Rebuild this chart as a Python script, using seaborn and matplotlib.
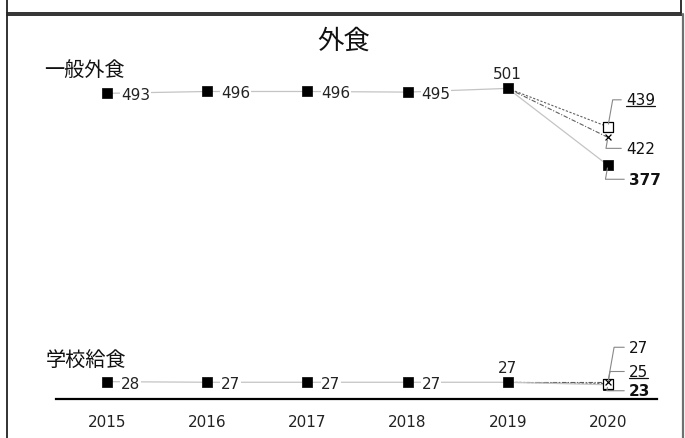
import matplotlib
matplotlib.use("Agg")
import matplotlib.pyplot as plt
import matplotlib.text as mtext
import seaborn as sns
import pandas as pd
from matplotlib.lines import Line2D

# ---------------- data ----------------
years = [2015, 2016, 2017, 2018, 2019, 2020]
general_actual = [493, 496, 496, 495, 501, 377]
school_actual = [28, 27, 27, 27, 27, 23]
forecast_years = [2019, 2020]
general_fc_a = [501, 439]   # open square, underlined label
general_fc_b = [501, 422]   # x marker
school_fc_a = [27, 25]      # open square, underlined label
school_fc_b = [27, 27]      # x marker
title = "外食"
series_names = ["一般外食", "学校給食"]

sns.set_theme(style="white")
plt.rcParams["font.family"] = ["DejaVu Sans", "Noto Sans CJK JP"]
CJK = ["Noto Sans CJK JP", "DejaVu Sans"]

W, H = 685, 439
fig = plt.figure(figsize=(W / 100, H / 100), dpi=100)

def fx(px):
    return px / W

def fy(py):
    return 1 - py / H

# axes: x from 56 to 657 px, y: 0 at 400 px, top at 60 px
ax = fig.add_axes([fx(56), fy(400), fx(657) - fx(56), fy(60) - fy(400)])
ax.set_xlim(2014.49, 2020.49)
ax.set_ylim(0, 340 / 0.62)

line_grey = "#c4c4c4"
fc_grey = "#606060"

# forecast lines (2019 -> 2020)
for fa, fb in [(general_fc_a, general_fc_b), (school_fc_a, school_fc_b)]:
    sns.lineplot(x=forecast_years, y=fa, ax=ax, color=fc_grey, lw=0.8,
                 linestyle=(0, (2, 1.5)), zorder=2)
    sns.lineplot(x=forecast_years, y=fb, ax=ax, color=fc_grey, lw=0.8,
                 linestyle=(0, (4, 1.5, 1, 1.5)), zorder=2)

# actual lines
for vals in [general_actual, school_actual]:
    sns.lineplot(x=years, y=vals, ax=ax, color=line_grey, lw=0.9, zorder=2)
    sns.scatterplot(x=years, y=vals, ax=ax, marker="s", s=48, color="black",
                    edgecolor="black", linewidth=0.5, zorder=4)

# forecast markers at 2020
for fa, fb in [(general_fc_a, general_fc_b), (school_fc_a, school_fc_b)]:
    sns.scatterplot(x=[forecast_years[-1]], y=[fa[-1]], ax=ax, marker="s", s=55,
                    facecolor="white", edgecolor="black", linewidth=0.9, zorder=5)
    sns.scatterplot(x=[forecast_years[-1]], y=[fb[-1]], ax=ax, marker="x", s=18,
                    color="black", linewidth=0.9, zorder=5)

FS = 11
bb = dict(boxstyle="square,pad=0.05", fc="white", ec="none")

# labels 2015-2018 to the right, 2019 above
for vals in [general_actual, school_actual]:
    for x, v in zip(years[:4], vals[:4]):
        ax.annotate(str(v), (x, v), xytext=(10, -1), textcoords="offset points",
                    ha="left", va="center", fontsize=FS, color="#222222",
                    bbox=bb, zorder=3)
    ax.annotate(str(vals[4]), (years[4], vals[4]), xytext=(0, 5),
                textcoords="offset points", ha="center", va="bottom",
                fontsize=FS, color="#222222")

underlined = []
def lab2020(v, dx, dy, weight="normal", underline=False):
    t = ax.annotate(str(v), (2020, v), xytext=(dx, dy), textcoords="offset points",
                    ha="left", va="center", fontsize=FS, color="#111111",
                    fontweight=weight, zorder=6,
                    arrowprops=dict(arrowstyle="-", color="#888888", lw=0.8,
                                    shrinkA=1, shrinkB=2,
                                    connectionstyle="angle,angleA=0,angleB=80,rad=0"))
    if underline:
        underlined.append(t)
    return t

px2pt = 0.72
lab2020(general_fc_a[-1], 18 * px2pt, 27 * px2pt, underline=True)
lab2020(general_fc_b[-1], 18 * px2pt, -11 * px2pt)
lab2020(general_actual[-1], 21 * px2pt, -14 * px2pt, weight="bold")
lab2020(school_fc_b[-1], 21 * px2pt, 35 * px2pt)
lab2020(school_fc_a[-1], 21 * px2pt, 12 * px2pt, underline=True)
lab2020(school_actual[-1], 21 * px2pt, -6 * px2pt, weight="bold")

# series names
fig.text(fx(44), fy(70), series_names[0], ha="left", va="center",
         fontsize=14.5, family=CJK, color="#111111")
fig.text(fx(46), fy(361), series_names[1], ha="left", va="center",
         fontsize=14.5, family=CJK, color="#111111")
# title
fig.text(fx(344), fy(41), title, ha="center", va="center", fontsize=19,
         family=CJK, color="#111111")

# axes styling
ax.set_xticks(years)
ax.set_xticklabels([str(y) for y in years], fontsize=FS, color="#222222")
ax.set_yticks([])
ax.tick_params(axis="x", length=0, pad=11)
for s in ["top", "left", "right"]:
    ax.spines[s].set_visible(False)
ax.spines["bottom"].set_color("black")
ax.spines["bottom"].set_linewidth(1.6)
ax.set_xlabel("")
ax.set_ylabel("")
ax.patch.set_alpha(0)

# frames
def fline(x0, y0, x1, y1, color="#222222", lw=1.3):
    fig.add_artist(Line2D([fx(x0), fx(x1)], [fy(y0), fy(y1)], color=color, lw=lw,
                          transform=fig.transFigure))

fline(7, -2, 7, 14)
fline(681, -2, 681, 14)
fline(7, 13.5, 681, 13.5)
fline(7, 15.5, 682, 15.5)
fline(7, 15, 7, 441)
fline(682.5, 15, 682.5, 441, color="#707070", lw=1.6)

# underlines
fig.canvas.draw()
r = fig.canvas.get_renderer()
for t in underlined:
    bbx = mtext.Text.get_window_extent(t, r)
    yb = bbx.y0 + 1
    fig.add_artist(Line2D([bbx.x0 / W, bbx.x1 / W], [yb / H, yb / H],
                          color="#111111", lw=0.9, transform=fig.transFigure))

fig.savefig("out.png", dpi=100)
